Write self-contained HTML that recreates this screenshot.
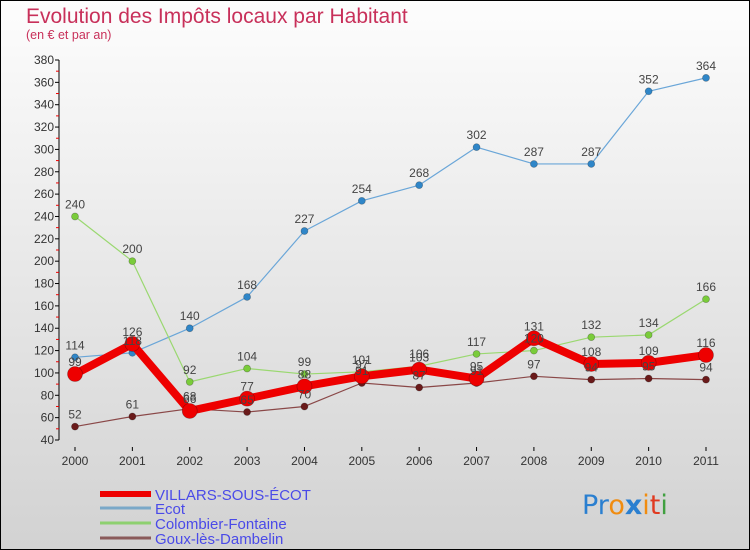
<!DOCTYPE html>
<html><head><meta charset="utf-8"><style>
body{margin:0;width:750px;height:550px;overflow:hidden;font-family:"Liberation Sans",sans-serif}
svg{display:block}
</style></head><body>
<svg id="c" width="750" height="550">
<defs><linearGradient id="bg" x1="0" y1="0" x2="0" y2="1"><stop offset="0" stop-color="#fdfdfd"/><stop offset="1" stop-color="#d2d2d2"/></linearGradient></defs>
<rect x="0.5" y="0.5" width="749" height="549" fill="url(#bg)" stroke="#000"/>
<text x="26" y="23" font-size="21" fill="#c8305a">Evolution des Impôts locaux par Habitant</text>
<text x="26" y="39" font-size="12.5" fill="#c8305a">(en € et par an)</text>
<g id="axes"></g><g id="series"></g><g id="labels"></g><g id="legend"></g>
<g font-size="27" font-family="DejaVu Sans, sans-serif">
<text x="582" y="514"><tspan fill="#2a7fd0">Pr</tspan><tspan fill="#f08c10">o</tspan><tspan fill="#2a7fd0" font-weight="bold">x</tspan><tspan fill="#f08c10">i</tspan><tspan fill="#e03a20">t</tspan><tspan fill="#40a040">i</tspan></text>
</g>
</svg>
<script>
const years=["2000","2001","2002","2003","2004","2005","2006","2007","2008","2009","2010","2011"];
const yTicks=[40,60,80,100,120,140,160,180,200,220,240,260,280,300,320,340,360,380];
const villars=[99,126,66,77,88,97,103,95,131,108,109,116];
const ecot=[114,118,140,168,227,254,268,302,287,287,352,364];
const colombier=[240,200,92,104,99,101,106,117,120,132,134,166];
const goux=[52,61,68,65,70,91,87,91,97,94,95,94];
const NS="http://www.w3.org/2000/svg";
const x=i=>75+i*(706-75)/11;
const y=v=>440-(v-40)*380/340;
function mk(p,t,a){const e=document.createElementNS(NS,t);for(const k in a)e.setAttribute(k,a[k]);document.getElementById(p).appendChild(e);return e;}
let ax=mk("axes","line",{x1:59,y1:60,x2:59,y2:440,stroke:"#000"});


yTicks.forEach(v=>{
 let l=mk("axes","line",{x1:55,x2:59,y1:y(v),y2:y(v),stroke:"#000"});
 
 
 if(v<380){
 let m=mk("axes","line",{x1:56,x2:59,y1:y(v+10),y2:y(v+10),stroke:"#e00"});
 
 
 }
 let t=mk("axes","text",{x:54,y:y(v)+4,"text-anchor":"end","font-size":12,fill:"#333"});t.textContent=v;
 
 
});
years.forEach((yr,i)=>{
 let l=mk("axes","line",{x1:x(i),x2:x(i),y1:447,y2:451,stroke:"#000"});
 
 
 let t=mk("axes","text",{x:x(i),y:465,"text-anchor":"middle","font-size":12,fill:"#333"});t.textContent=yr;
 
 
});
const series=[
 {d:ecot,c:"#6aa6d8",pc:"#2f86c8",w:1.2,r:3.5,n:"ecot"},
 {d:colombier,c:"#9ad870",pc:"#7acc3a",w:1.2,r:3.5,n:"colombier-fontaine"},
 {d:goux,c:"#8a4848",pc:"#6a1a1a",w:1.2,r:3.5,n:"goux-les-dambelin"},
 {d:villars,c:"#ee0000",pc:"#ee0000",w:8,r:7.5,n:"villars-sous-ecot"}];
series.forEach(s=>{
 let pl=mk("series","polyline",{points:s.d.map((v,i)=>x(i)+","+y(v)).join(" "),fill:"none",stroke:s.c,"stroke-width":s.w,"stroke-linejoin":"round"});
 
 
 s.d.forEach((v,i)=>{
  let c=mk("series","circle",{cx:x(i),cy:y(v),r:s.r,fill:s.pc,stroke:"rgba(0,0,0,0.3)","stroke-width":0.7});
  
  
  let t=mk("labels","text",{x:x(i),y:y(v)-8,"text-anchor":"middle","font-size":12,fill:"#444"});t.textContent=v;
  
  
 });
});
const leg=[["VILLARS-SOUS-ÉCOT","#ee0000",6,494],["Ecot","#7aa8c8",3,508],["Colombier-Fontaine","#8ed070",3,523],["Goux-lès-Dambelin","#8a5a5a",3,538]];
leg.forEach(l=>{
 let ln=mk("legend","line",{x1:100,x2:151,y1:l[3],y2:l[3],stroke:l[1],"stroke-width":l[2]});
 
 
 let t=mk("legend","text",{x:155,y:l[3]+6,"font-size":15,fill:"#4a4ae8"});t.textContent=l[0];
 
 
});
</script>
</body></html>
